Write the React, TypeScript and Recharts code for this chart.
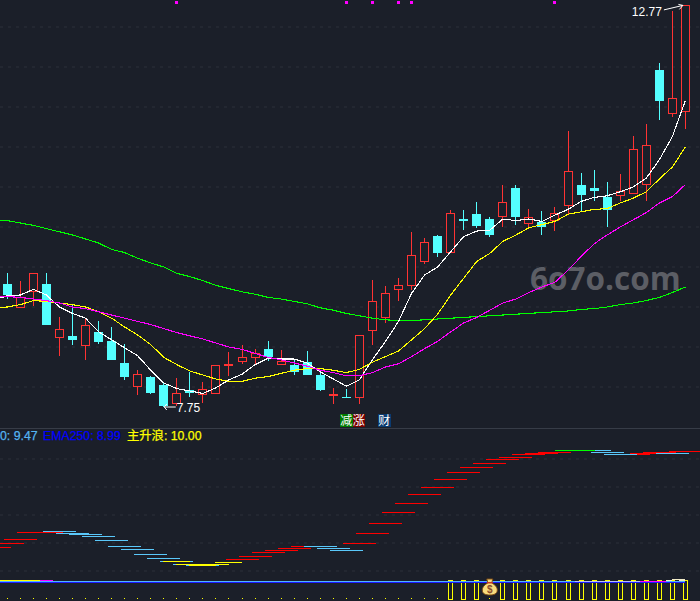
import React from "react";
import { Bar, CartesianGrid, ComposedChart, Line, ReferenceDot, XAxis, YAxis } from "recharts";

// candle prices, one entry per trading day
const opens = [9.29, 9.0, 9.2, 9.29, 8.62, 8.64, 8.52, 8.69, 8.58, 8.3, 8.01, 8.13, 8.02, 7.8, 7.96, 7.91, 7.93, 8.27, 8.33, 8.37, 8.48, 8.29, 8.27, 8.31, 8.15, 7.9, 7.87, 7.88, 8.71, 8.88, 9.22, 9.28, 9.58, 9.89, 9.69, 10.1, 10.16, 10.1, 10.14, 10.49, 10.05, 10.06, 10.09, 10.28, 10.52, 10.49, 10.38, 10.4, 10.42, 10.54, 11.96, 11.43, 11.45];
const closes = [9.15, 9.13, 9.42, 8.78, 8.72, 8.59, 8.78, 8.56, 8.34, 8.13, 8.16, 7.93, 7.76, 7.93, 7.93, 7.97, 8.27, 8.29, 8.38, 8.43, 8.38, 8.32, 8.19, 8.15, 7.96, 7.91, 7.86, 8.65, 9.08, 9.18, 9.27, 9.65, 9.81, 9.67, 10.17, 10.08, 10.01, 9.9, 10.31, 10.12, 10.12, 10.0, 10.18, 10.7, 10.4, 10.45, 10.21, 10.45, 10.97, 11.02, 11.57, 11.61, 12.77];
const highs = [9.43, 9.33, 9.42, 9.43, 8.88, 9.03, 8.86, 8.83, 8.75, 8.54, 8.21, 8.14, 8.06, 8.11, 8.19, 8.06, 8.27, 8.44, 8.53, 8.48, 8.58, 8.46, 8.35, 8.45, 8.19, 7.99, 7.97, 8.65, 9.34, 9.26, 9.36, 9.94, 9.86, 9.9, 10.21, 10.21, 10.31, 10.13, 10.53, 10.53, 10.23, 10.2, 10.25, 11.2, 10.68, 10.71, 10.56, 10.66, 11.14, 11.29, 12.05, 12.7, 12.77];
const lows = [9.1, 8.99, 9.01, 8.78, 8.39, 8.53, 8.34, 8.54, 8.34, 8.09, 7.9, 7.91, 7.75, 7.76, 7.88, 7.8, 7.92, 8.14, 8.29, 8.28, 8.33, 8.29, 8.15, 8.15, 7.95, 7.79, 7.86, 7.79, 8.53, 8.8, 9.07, 9.21, 9.54, 9.62, 9.69, 9.96, 9.99, 9.88, 10.0, 10.03, 9.98, 9.9, 9.95, 10.15, 10.2, 10.32, 10.0, 10.33, 10.42, 10.33, 11.34, 11.38, 11.23];

// moving averages, first entry is the day just left of the picture
const maFast = [9.09, 9.14, 9.15, 9.22, 9.15, 9.0, 8.92, 8.86, 8.69, 8.59, 8.49, 8.39, 8.21, 8.05, 7.98, 7.95, 7.92, 7.99, 8.09, 8.16, 8.28, 8.36, 8.35, 8.35, 8.3, 8.19, 8.1, 8.01, 8.09, 8.34, 8.57, 8.82, 9.17, 9.4, 9.5, 9.69, 9.88, 9.95, 9.96, 10.1, 10.08, 10.1, 10.07, 10.15, 10.22, 10.32, 10.37, 10.39, 10.44, 10.5, 10.61, 10.84, 11.13, 11.58];
const maMid = [8.99, 9.0, 9.03, 9.08, 9.07, 9.05, 9.03, 9.0, 8.94, 8.86, 8.75, 8.65, 8.53, 8.37, 8.28, 8.2, 8.15, 8.1, 8.07, 8.07, 8.11, 8.13, 8.17, 8.21, 8.23, 8.23, 8.21, 8.18, 8.22, 8.31, 8.38, 8.45, 8.59, 8.73, 8.91, 9.15, 9.36, 9.57, 9.67, 9.82, 9.9, 9.99, 10.03, 10.07, 10.16, 10.19, 10.22, 10.23, 10.3, 10.36, 10.44, 10.6, 10.75, 11.0];
const maSlow = [9.14, 9.13, 9.12, 9.1, 9.08, 9.05, 9.0, 8.98, 8.94, 8.9, 8.86, 8.82, 8.78, 8.73, 8.68, 8.64, 8.6, 8.55, 8.5, 8.47, 8.42, 8.37, 8.34, 8.3, 8.26, 8.21, 8.18, 8.14, 8.14, 8.18, 8.25, 8.29, 8.38, 8.48, 8.57, 8.69, 8.8, 8.87, 8.96, 9.05, 9.1, 9.18, 9.25, 9.31, 9.46, 9.63, 9.79, 9.9, 10.0, 10.09, 10.18, 10.3, 10.38, 10.53];
const maLong = [10.09, 10.08, 10.05, 10.02, 9.98, 9.94, 9.9, 9.85, 9.8, 9.72, 9.68, 9.61, 9.55, 9.5, 9.42, 9.38, 9.33, 9.27, 9.23, 9.19, 9.16, 9.12, 9.1, 9.07, 9.04, 8.99, 8.96, 8.92, 8.89, 8.86, 8.84, 8.83, 8.83, 8.84, 8.85, 8.86, 8.87, 8.88, 8.89, 8.9, 8.91, 8.92, 8.93, 8.94, 8.95, 8.97, 8.98, 9.0, 9.03, 9.05, 9.08, 9.12, 9.18, 9.25];

const priceTicks = [8, 8.5, 9, 9.5, 10, 10.5, 11, 11.5, 12, 12.5];
const signalDays = [13, 26, 28, 30, 31, 42];

// lower panel, [day, value]
const waveUp = [[-1, 34.7], [0, 38.7], [1, 42.7], [2, 49.7], [3, 50.3], [18, 22.7], [19, 25.7], [20, 29.7], [21, 31.7], [22, 33.7], [23, 35.7], [27, 38.7], [28, 48.7], [29, 58.7], [30, 69.7], [31, 78.7], [32, 87.7], [33, 94.7], [34, 102.7], [35, 109.7], [36, 114.7], [37, 118.7], [38, 122.7], [39, 124.7], [40, 127.7], [41, 128.7], [42, 129.7], [48, 127.7], [49, 128.7], [50, 129.7], [52, 130.7]];
const waveDown = [[4, 50.7], [5, 48.7], [6, 47.7], [7, 45.7], [8, 41.7], [9, 35.7], [10, 32.7], [11, 27.7], [12, 23.7], [13, 20.7], [14, 17.7], [15, 16.7], [24, 35.7], [25, 33.7], [26, 31.7], [45, 131.7], [46, 129.7], [47, 127.7], [51, 128.7]];
const waveLow = [[13, 20.7], [14, 17.7], [15, 17], [16, 17.7], [17, 19.7]];
const wavePeak = [[43, 131.7], [44, 131.7]];

const bandYellow = [[-1, 1.7], [0, 1.7], [1, 1.7], [2, 1.7]];
const bandMagenta = [[3, 1.7], [49, 1.3], [50, 1.3]];
const bandPale = [[44, 1], [45, 1], [46, 1], [47, 1], [48, 1]];
const bandTop = [[51, 2.5], [52, 2.5]];

const oscTicks = [11, 39, 67, 95, 123];
const oscLine = 1;
const emaLine = 0;
const boxDays = [34, 35, 36, 38, 39, 40, 41, 42, 43, 44, 45, 46, 47, 48, 49, 50, 51, 52];
const dotDays = [0, 1, 2, 3, 4, 5, 6, 7, 8, 9, 10, 11, 12, 13, 14, 15, 16, 17, 18, 19, 20, 21, 22, 23, 24, 25, 26, 27, 28, 29, 30, 31, 32, 33, 37];
const bagDays = [37];
const boxRange = [-16.5, 2];
const dotLevel = -16;

const lookup = (pairs: number[][], day: number) => {
  const hit = pairs.find((p) => p[0] === day);
  return hit ? hit[1] : null;
};

const priceRows = maFast.map((fast, i) => {
  const day = i - 1;
  const row: any = { day, fast, mid: maMid[i], slow: maSlow[i], long: maLong[i] };
  if (day >= 0) {
    row.open = opens[day];
    row.close = closes[day];
    row.high = highs[day];
    row.low = lows[day];
    row.range = [lows[day], highs[day]];
  }
  if (signalDays.includes(day)) row.signal = 12.8;
  return row;
});

const oscRows = maFast.map((_, i) => {
  const day = i - 1;
  return {
    day,
    up: lookup(waveUp, day),
    down: lookup(waveDown, day),
    low: lookup(waveLow, day),
    peak: lookup(wavePeak, day),
    yellow: lookup(bandYellow, day),
    magenta: lookup(bandMagenta, day),
    pale: lookup(bandPale, day),
    top: lookup(bandTop, day),
    osc: oscLine,
    ema: emaLine,
    box: boxDays.includes(day) ? boxRange : null,
    dot: dotDays.includes(day) ? dotLevel : null,
    bag: bagDays.includes(day) ? dotLevel + 10 : null,
  };
});

const BG = "#1b1f29";
const RED = "#ff3333";
const CYAN = "#54ffff";
const xDomain = [-0.56, 53.12];
const LINE_WIDTH = 1.1;

const Candle = (props: any) => {
  const { x, y, width, height, payload } = props;
  if (payload.open == null || !height) return <g />;
  const perUnit = height / (payload.high - payload.low);
  const up = payload.close > payload.open;
  const bodyHigh = Math.max(payload.open, payload.close);
  const bodyLow = Math.min(payload.open, payload.close);
  const top = Math.round(y + (payload.high - bodyHigh) * perUnit);
  const bottom = Math.round(y + (payload.high - bodyLow) * perUnit);
  const left = Math.round(x);
  const mid = left + 4.5;
  const color = up ? RED : CYAN;
  return (
    <g shapeRendering="crispEdges">
      <line x1={mid} x2={mid} y1={y} y2={y + height} stroke={color} strokeWidth={1} />
      {up ? (
        <rect x={left + 0.5} y={top + 0.5} width={8} height={Math.max(bottom - top, 1)} fill={BG} stroke={color} strokeWidth={1} />
      ) : (
        <rect x={left} y={top} width={9} height={Math.max(bottom - top, 1)} fill={color} />
      )}
    </g>
  );
};

const BoxBar = (props: any) => {
  const { x, y, width, height, payload } = props;
  if (!payload.box) return <g />;
  const left = Math.round(x + width / 2 - 2.5);
  return <rect x={left + 0.5} y={Math.round(y) + 0.5} width={4} height={Math.round(height)} fill="none" stroke="#ffff00" strokeWidth={1} shapeRendering="crispEdges" />;
};

// draws a flat piece of line around a data point
const flat = (color: string, left: number, right: number, thick: number) => (props: any) => {
  const { cx, cy, index } = props;
  if (cy == null) return <g key={index} />;
  return <rect key={index} x={cx - left} y={Math.round(cy)} width={left + right} height={thick} fill={color} shapeRendering="crispEdges" />;
};

const square = (color: string, size: number) => (props: any) => {
  const { cx, cy, index } = props;
  if (cy == null) return <g key={index} />;
  return <rect key={index} x={Math.round(cx - size / 2)} y={Math.round(cy - size / 2)} width={size} height={size} fill={color} shapeRendering="crispEdges" />;
};

const MoneyBag = (props: any) => {
  const { cx, cy, index } = props;
  if (cy == null) return <g key={index} />;
  return (
    <g key={index} transform={`translate(${cx},${cy})`}>
      <path d="M-3 -9 L3 -9 L2 -5 C6 -3 7.5 0 7.5 2 C7.5 6 4 7 0 7 C-4 7 -7.5 6 -7.5 2 C-7.5 0 -6 -3 -2 -5 Z" fill="#f8dc7e" stroke="#7d4a12" strokeWidth={1} />
      <rect x={-3} y={-6} width={6} height={1.5} fill="#c0392b" />
      <text x={0} y={5} textAnchor="middle" fontSize={10} fontWeight={700} fontFamily="Liberation Sans" fill="#8a4b2a">$</text>
    </g>
  );
};

const HighMark = (props: any) => {
  const { cx, cy } = props;
  return (
    <g>
      <text x={cx - 23.5} y={cy + 11} textAnchor="end" fontSize={12} fontFamily="Liberation Sans" fill="#ffffff">12.77</text>
      <path d={`M${cx - 21.5} ${cy + 4.5} L${cx - 2.5} ${cy} M${cx - 7} ${cy - 1} L${cx - 2.5} ${cy} L${cx - 6} ${cy + 4}`} fill="none" stroke="#ffffff" strokeWidth={1} />
    </g>
  );
};

const LowMark = (props: any) => {
  const { cx, cy } = props;
  return (
    <g>
      <text x={cx + 13} y={cy + 5} fontSize={12} fontFamily="Liberation Sans" fill="#ffffff">7.75</text>
      <path d={`M${cx + 12} ${cy} L${cx + 0.5} ${cy} M${cx + 3} ${cy - 3} L${cx + 0.5} ${cy} L${cx + 3} ${cy + 3}`} fill="none" stroke="#ffffff" strokeWidth={1} />
    </g>
  );
};

const textFont = '"Liberation Sans", "Noto Sans CJK SC", sans-serif';

const Badge = ({ left, color, text }: { left: number; color: string; text: string }) => (
  <div style={{ position: "absolute", left, top: 414, width: 12.5, height: 12.5, background: color, color: "#fff", fontSize: 12, lineHeight: "12.5px", textAlign: "center", fontFamily: "Noto Sans CJK SC" }}>
    {text}
  </div>
);

const Legend = ({ left, color, text }: { left: number; color: string; text: string }) => (
  <div style={{ position: "absolute", left, top: 429, color, fontSize: 12.3, lineHeight: "15px", fontFamily: textFont, whiteSpace: "nowrap", WebkitTextStroke: `0.25px ${color}` }}>
    {text}
  </div>
);

const noAxisX = <XAxis dataKey="day" type="number" domain={xDomain} allowDataOverflow hide />;

export default function App() {
  return (
    <div style={{ position: "absolute", left: 0, top: 0, width: 700, height: 601, background: BG, overflow: "hidden" }}>
      <div style={{ position: "absolute", left: 530, top: 256, color: "#5c5e65", fontSize: 31.5, lineHeight: "44px", fontWeight: 700, fontFamily: "Open Sans" }}>6o7o.com</div>

      <div style={{ position: "absolute", left: 0, top: 0 }}>
        <ComposedChart width={700} height={428} data={priceRows} margin={{ top: 0, right: 0, bottom: 0, left: 0 }}>
          <CartesianGrid vertical={false} horizontalValues={priceTicks} stroke="#2c303b" strokeDasharray="3 5" />
          {noAxisX}
          <YAxis type="number" domain={[7.4875, 12.8375]} ticks={priceTicks} allowDataOverflow hide />
          <Bar dataKey="range" barSize={9} shape={<Candle />} isAnimationActive={false} />
          <Line dataKey="long" stroke="#00ff00" strokeWidth={LINE_WIDTH} dot={false} shapeRendering="crispEdges" isAnimationActive={false} />
          <Line dataKey="fast" stroke="#ffffff" strokeWidth={LINE_WIDTH} dot={false} shapeRendering="crispEdges" isAnimationActive={false} />
          <Line dataKey="mid" stroke="#ffff00" strokeWidth={LINE_WIDTH} dot={false} shapeRendering="crispEdges" isAnimationActive={false} />
          <Line dataKey="slow" stroke="#ff00ff" strokeWidth={LINE_WIDTH} dot={false} shapeRendering="crispEdges" isAnimationActive={false} />
          <Line dataKey="signal" stroke="none" dot={square("#ff00ff", 3)} activeDot={false} isAnimationActive={false} />
          <ReferenceDot x={52} y={12.77} r={0} shape={<HighMark />} />
          <ReferenceDot x={12} y={7.75} r={0} shape={<LowMark />} />
        </ComposedChart>
      </div>

      <div style={{ position: "absolute", left: 0, top: 428, width: 700, height: 1, background: "#373c47" }} />

      <div style={{ position: "absolute", left: 0, top: 428 }}>
        <ComposedChart width={700} height={173} data={oscRows} margin={{ top: 0, right: 0, bottom: 0, left: 0 }}>
          <CartesianGrid vertical={false} horizontalValues={oscTicks} stroke="#2c303b" strokeDasharray="3 5" />
          {noAxisX}
          <YAxis type="number" domain={[-19, 154]} ticks={oscTicks} allowDataOverflow hide />
          <Line dataKey="osc" stroke="#4fb4ff" strokeWidth={1} dot={false} shapeRendering="crispEdges" isAnimationActive={false} />
          <Line dataKey="ema" stroke="#1a1aff" strokeWidth={1} dot={false} shapeRendering="crispEdges" isAnimationActive={false} />
          <Line dataKey="up" stroke="none" dot={flat("#ff0000", 16.5, 16.5, 1)} activeDot={false} isAnimationActive={false} />
          <Line dataKey="down" stroke="none" dot={flat("#5ac8fa", 16.5, 16.5, 1)} activeDot={false} isAnimationActive={false} />
          <Line dataKey="low" stroke="none" dot={flat("#ffff00", 13.5, 13.5, 1)} activeDot={false} isAnimationActive={false} />
          <Line dataKey="peak" stroke="none" dot={flat("#00ff00", 13.5, 13.5, 1)} activeDot={false} isAnimationActive={false} />
          <Line dataKey="yellow" stroke="none" dot={flat("#ffff00", 6.5, 6.5, 1)} activeDot={false} isAnimationActive={false} />
          <Line dataKey="magenta" stroke="none" dot={flat("#ff00ff", 6.5, 6.5, 1)} activeDot={false} isAnimationActive={false} />
          <Line dataKey="pale" stroke="none" dot={flat("#b9c2f5", 6.5, 6.5, 1)} activeDot={false} isAnimationActive={false} />
          <Line dataKey="top" stroke="none" dot={flat("#f2ecc8", 6.5, 0, 1)} activeDot={false} isAnimationActive={false} />
          <Line dataKey="top" stroke="#f2ecc8" strokeWidth={1} dot={false} shapeRendering="crispEdges" isAnimationActive={false} />
          <Bar dataKey="box" barSize={5} shape={<BoxBar />} isAnimationActive={false} />
          <Line dataKey="dot" stroke="none" dot={square("#ffff00", 1)} activeDot={false} isAnimationActive={false} />
          <Line dataKey="bag" stroke="none" dot={MoneyBag} activeDot={false} isAnimationActive={false} />
        </ComposedChart>
      </div>

      <Legend left={0} color="#55b4f0" text="0: 9.47" />
      <Legend left={43} color="#0000ff" text="EMA250: 8.99" />
      <Legend left={127} color="#ffff00" text="主升浪: 10.00" />

      <Badge left={340} color="#007a00" text="减" />
      <Badge left={352.5} color="#7a0000" text="涨" />
      <Badge left={378} color="#0a3a70" text="财" />
    </div>
  );
}
